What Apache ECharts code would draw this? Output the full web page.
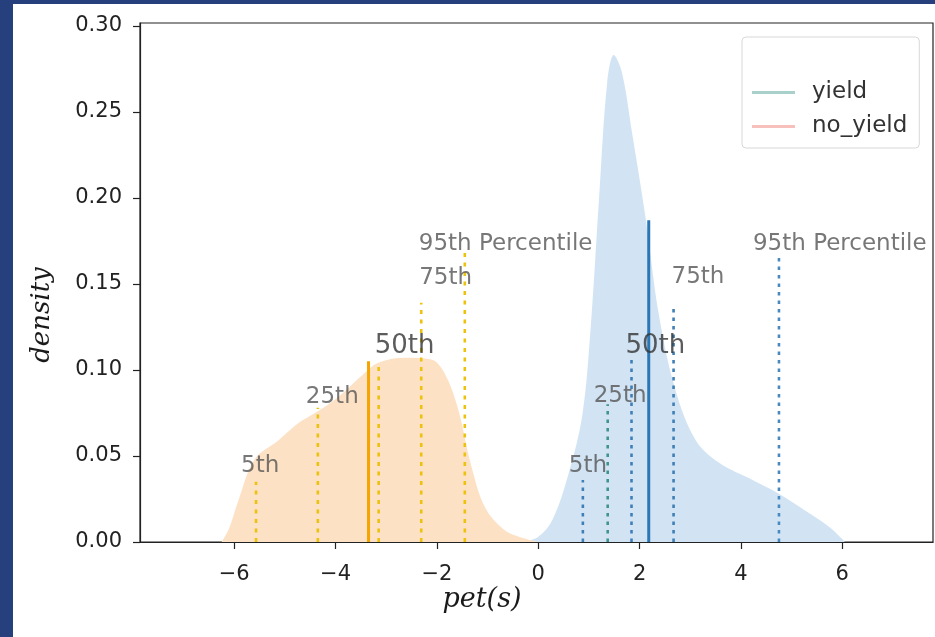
<!DOCTYPE html>
<html>
<head>
<meta charset="utf-8">
<script src="https://cdn.jsdelivr.net/npm/echarts@6/dist/echarts.min.js"></script>
<style>
  html, body { margin: 0; padding: 0; width: 935px; height: 637px; background: #263f7d; overflow: hidden; }
  #chart { position: absolute; left: 13px; top: 4px; width: 922px; height: 633px; background: #ffffff; }
</style>
</head>
<body>
<div id="chart"></div>
<script>
// ---- data ----
const xTicks = [-6, -4, -2, 0, 2, 4, 6];
const yTicks = [0, 0.05, 0.10, 0.15, 0.20, 0.25, 0.30];

const yieldX       = [-0.30, 0.00, 0.28, 0.60, 0.87, 1.03, 1.20, 1.36, 1.49, 1.65, 1.85, 2.12, 2.38, 2.71, 3.11, 3.57, 4.23, 4.75, 5.28, 5.73, 5.99, 6.05];
const yieldDensity = [0.000, 0.003, 0.013, 0.040, 0.074, 0.123, 0.200, 0.267, 0.283, 0.273, 0.238, 0.188, 0.132, 0.088, 0.059, 0.046, 0.036, 0.028, 0.018, 0.009, 0.002, 0.000];

const noYieldX       = [-6.25, -6.10, -5.92, -5.60, -5.13, -4.74, -4.35, -3.96, -3.43, -3.17, -2.64, -2.11, -1.85, -1.59, -1.32, -1.05, -0.67, -0.27, 0.00];
const noYieldDensity = [0.000, 0.008, 0.024, 0.048, 0.059, 0.069, 0.076, 0.084, 0.098, 0.104, 0.107, 0.106, 0.098, 0.078, 0.044, 0.020, 0.007, 0.002, 0.000];

const pctLabels = ['5th', '25th', '50th', '75th', '95th Percentile'];
const yieldPctX     = [0.88, 1.37, 1.84, 2.67, 4.75];
const yieldPctTop   = [0.036, 0.080, 0.106, 0.138, 0.167];
const noYieldPctX   = [-5.57, -4.35, -3.15, -2.31, -1.45];
const noYieldPctTop = [0.035, 0.078, 0.104, 0.139, 0.171];

const yieldCenterX = 2.18,   yieldCenterTop = 0.187;
const noYieldCenterX = -3.35, noYieldCenterTop = 0.105;

const seriesNames = ['yield', 'no_yield'];

// ---- styling (not data) ----
const yieldLabelOffsets   = [[-14, -14], [-14, -8], [-6, -13], [-2, -27], [-26, -11]];
const noYieldLabelOffsets = [[-15, -16], [-12, -11], [-4, -17], [-2, -25], [-46, -4]];
const yieldDotColors   = ['#3f7fb6', '#3e948f', '#3f7fb6', '#3f7fb6', '#4a88c0'];
const noYieldDotColors = ['#ecc20c', '#ecc20c', '#ecc20c', '#ecc20c', '#ecc20c'];

function zip(xs, ys) { return xs.map((x, i) => [x, ys[i]]); }

const series = [];

series.push({
  name: seriesNames[0], type: 'line', data: zip(yieldX, yieldDensity),
  smooth: 0.35, symbol: 'none', silent: true, z: 1,
  lineStyle: { width: 0, color: '#cfe2f3' },
  itemStyle: { color: '#cfe2f3' },
  areaStyle: { color: '#d2e4f4', opacity: 1 }
});
series.push({
  name: seriesNames[1], type: 'line', data: zip(noYieldX, noYieldDensity),
  smooth: 0.35, symbol: 'none', silent: true, z: 1,
  lineStyle: { width: 0, color: '#fde0c2' },
  itemStyle: { color: '#fde0c2' },
  areaStyle: { color: '#fde1c4', opacity: 1 }
});

function vline(x, top, color, width, type, z) {
  series.push({
    type: 'line', data: [[x, 0], [x, top]], symbol: 'none', silent: true, z: z,
    lineStyle: { color: color, width: width, type: type }
  });
}

yieldPctX.forEach((x, i) => vline(x, yieldPctTop[i], yieldDotColors[i], 2.6, [3.5, 5], 3));
noYieldPctX.forEach((x, i) => vline(x, noYieldPctTop[i], noYieldDotColors[i], 2.6, [4, 5.5], 3));
vline(yieldCenterX, yieldCenterTop, '#2b77b5', 3, 'solid', 4);
vline(noYieldCenterX, noYieldCenterTop, '#f5a400', 3, 'solid', 4);

function labelSeries(xs, tops, offsets) {
  series.push({
    type: 'scatter', symbolSize: 1, silent: true, z: 6,
    itemStyle: { color: 'rgba(0,0,0,0)' },
    data: xs.map((x, i) => {
      const is50 = pctLabels[i] === '50th';
      return {
        value: [x, tops[i]],
        label: {
          show: true, position: 'inside', align: 'left', verticalAlign: 'middle',
          offset: offsets[i], formatter: pctLabels[i],
          fontFamily: 'DejaVu Sans', fontSize: is50 ? 26 : 23,
          color: is50 ? '#333333' : '#555555'
        }
      };
    })
  });
}
labelSeries(yieldPctX, yieldPctTop, yieldLabelOffsets);
labelSeries(noYieldPctX, noYieldPctTop, noYieldLabelOffsets);

const fmtX = v => (v < 0 ? '\u2212' + Math.abs(v) : String(v));

const option = {
  animation: false,
  backgroundColor: '#ffffff',
  grid: {
    left: 127, right: 2, top: 19, bottom: 95,
    show: true, borderColor: '#222', borderWidth: 1.2, backgroundColor: 'transparent'
  },
  xAxis: {
    type: 'value', min: -7.86, max: 7.79,
    axisLine: { show: true, onZero: false, lineStyle: { color: '#222', width: 1.2 } },
    axisTick: { show: true, inside: false, length: 7, lineStyle: { color: '#222', width: 1.2 }, customValues: xTicks },
    axisLabel: { customValues: xTicks, formatter: fmtX, margin: 22, fontFamily: 'DejaVu Sans', fontSize: 21, color: '#222' },
    splitLine: { show: false }
  },
  yAxis: {
    type: 'value', min: 0, max: 0.3016,
    axisLine: { show: true, onZero: false, lineStyle: { color: '#222', width: 1.2 } },
    axisTick: { show: true, inside: false, length: 7, lineStyle: { color: '#222', width: 1.2 }, customValues: yTicks },
    axisLabel: { customValues: yTicks, formatter: v => v.toFixed(2), margin: 18, fontFamily: 'DejaVu Sans', fontSize: 21, color: '#222' },
    splitLine: { show: false }
  },
  legend: {
    left: 729, top: 33, orient: 'vertical',
    padding: [44, 12, 10, 10], itemGap: 11,
    itemWidth: 43, itemHeight: 3,
    borderColor: '#d8d8d8', borderWidth: 1, borderRadius: 4,
    backgroundColor: 'rgba(255,255,255,0.8)',
    textStyle: { fontFamily: 'DejaVu Sans', fontSize: 23, color: '#333', padding: [0, 0, 0, 12] },
    data: [
      { name: seriesNames[0], icon: 'rect', itemStyle: { color: '#a9d0ca' } },
      { name: seriesNames[1], icon: 'rect', itemStyle: { color: '#f8c0ba' } }
    ]
  },
  graphic: [
    { type: 'text', x: 29, y: 311, rotation: Math.PI / 2,
      style: { text: 'density', fontFamily: 'DejaVu Serif', fontStyle: 'italic', fontSize: 26, fill: '#1a1a1a', align: 'center', verticalAlign: 'middle' } },
    { type: 'text', x: 469, y: 596,
      style: { text: 'pet(s)', fontFamily: 'DejaVu Serif', fontStyle: 'italic', fontSize: 27, fill: '#1a1a1a', align: 'center', verticalAlign: 'middle' } }
  ],
  series: series
};

const chart = echarts.init(document.getElementById('chart'), null, { renderer: 'canvas' });
chart.setOption(option);
</script>
</body>
</html>
